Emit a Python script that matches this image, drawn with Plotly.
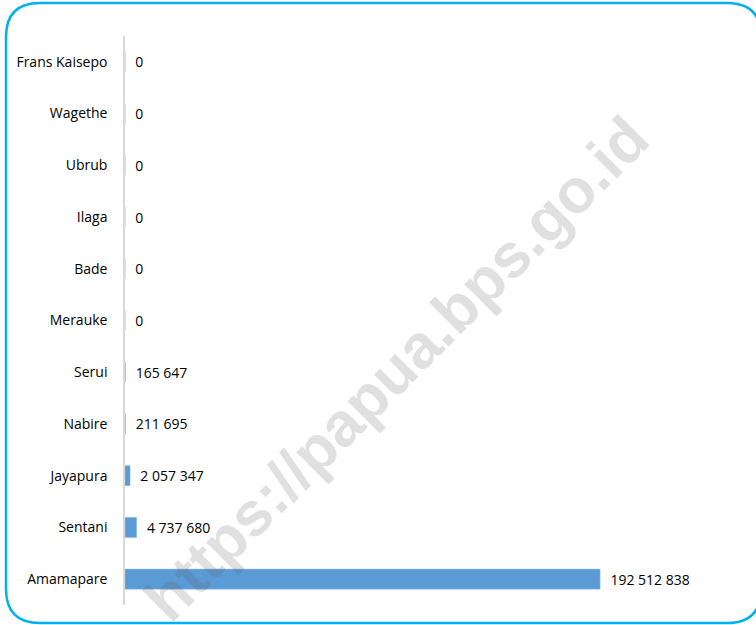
import plotly.graph_objects as go

# Data (top to bottom as shown)
categories = ["Frans Kaisepo", "Wagethe", "Ubrub", "Ilaga", "Bade", "Merauke",
              "Serui", "Nabire", "Jayapura", "Sentani", "Amamapare"]
values = [0, 0, 0, 0, 0, 0, 165647, 211695, 2057347, 4737680, 192512838]
value_labels = ["0", "0", "0", "0", "0", "0", "165 647", "211 695",
                "2 057 347", "4 737 680", "192 512 838"]
watermark = "https://papua.bps.go.id"

W, H = 756, 625

def px(x):
    return x / W

def py(y):
    return 1 - y / H

FONT = "Open Sans"

fig = go.Figure()
fig.add_trace(go.Bar(
    y=categories, x=values, orientation="h",
    marker=dict(color="#5B9BD5", line=dict(color="#9DC3E6", width=0.5)),
    width=0.39,
    text=value_labels,
    texttemplate="  %{text}",
    textposition="outside",
    textfont=dict(family=FONT, size=14, color="#000000"),
    cliponaxis=False,
    hoverinfo="skip",
))

# rounded frame
x0, x1, y0, y1, r = 6, 761, 3, 623, 34
path = (
    f"M {px(x0+r)} {py(y0)} L {px(x1-r)} {py(y0)} "
    f"Q {px(x1)} {py(y0)} {px(x1)} {py(y0+r)} "
    f"L {px(x1)} {py(y1-r)} "
    f"Q {px(x1)} {py(y1)} {px(x1-r)} {py(y1)} "
    f"L {px(x0+r)} {py(y1)} "
    f"Q {px(x0)} {py(y1)} {px(x0)} {py(y1-r)} "
    f"L {px(x0)} {py(y0+r)} "
    f"Q {px(x0)} {py(y0)} {px(x0+r)} {py(y0)} Z"
)

fig.update_layout(
    width=W, height=H,
    margin=dict(l=0, r=0, t=0, b=0),
    paper_bgcolor="white", plot_bgcolor="white",
    showlegend=False,
    bargap=0.6,
    xaxis=dict(domain=[px(125), px(742)], range=[0, 2.5e8], visible=False),
    yaxis=dict(domain=[py(605), py(36)], autorange="reversed",
               showline=True, linecolor="#D9D9D9", linewidth=1.5,
               showgrid=False, zeroline=False, ticks="",
               ticklabelstandoff=13,
               tickfont=dict(family=FONT, size=14, color="#000000")),
    shapes=[dict(type="path", path=path, xref="paper", yref="paper",
                 line=dict(color="#00B0F0", width=2.5), layer="above")],
    annotations=[dict(text=f"<b>{watermark}</b>", x=px(396), y=py(368),
                      xref="paper", yref="paper", showarrow=False,
                      textangle=-45, font=dict(family="Liberation Sans", size=62,
                                               color="rgba(90,90,90,0.19)"))],
)

fig.write_html("out.html", config={"displayModeBar": False},
               post_script="document.body.style.margin='0px';document.body.style.overflow='hidden';")
